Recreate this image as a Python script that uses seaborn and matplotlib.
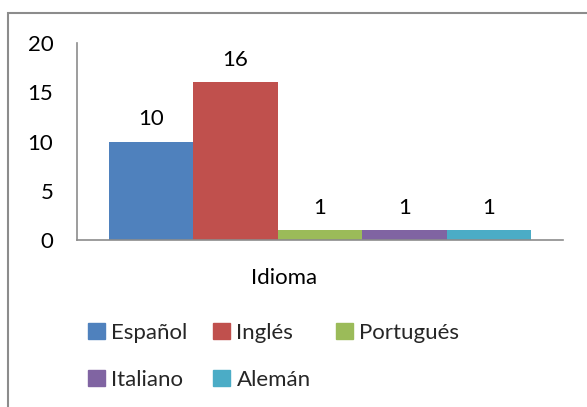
import matplotlib
matplotlib.use("Agg")
import matplotlib.pyplot as plt
import matplotlib.patches as mpatches
import matplotlib.transforms as mtransforms
import seaborn as sns
import pandas as pd

categories = ["Idioma"]
languages = ["Español", "Inglés", "Portugués", "Italiano", "Alemán"]
counts = [10, 16, 1, 1, 1]
colors = ["#4F81BD", "#C0504D", "#9BBB59", "#8064A2", "#4BACC6"]
yticks = [0, 5, 10, 15, 20]

df = pd.DataFrame({"cat": categories * len(languages), "lang": languages, "n": counts})

sns.set_style("white")
plt.rcParams["font.family"] = ["Lato", "DejaVu Sans"]
FS = 16

fig = plt.figure(figsize=(5.87, 4.07), dpi=100)
ax = fig.add_axes([77 / 587, 1 - 240 / 407, 486 / 587, 197 / 407])

sns.barplot(data=df, x="cat", y="n", hue="lang", hue_order=languages,
            palette=colors, width=0.87, saturation=1, ax=ax, legend=False,
            linewidth=0, edgecolor="none")

for c in ax.containers:
    ax.bar_label(c, padding=9, fontsize=FS, color="black")

ax.set_ylim(0, 20)
ax.set_xlim(-0.5, 0.5)
ax.set_yticks(yticks)
ax.set_xlabel("")
ax.set_ylabel("")
ax.tick_params(axis="y", length=0, pad=17, labelsize=FS, colors="black")
ax.tick_params(axis="x", length=0, pad=20, labelsize=FS, colors="black")
shift = mtransforms.ScaledTranslation(-36 / 100, 0, fig.dpi_scale_trans)
for lab in ax.get_xticklabels():
    lab.set_transform(lab.get_transform() + shift)
for s in ["top", "right"]:
    ax.spines[s].set_visible(False)
for s in ["left", "bottom"]:
    ax.spines[s].set_color("#8c8c8c")
    ax.spines[s].set_linewidth(1.2)

handles = [mpatches.Patch(color=col, label=l) for col, l in zip(colors, languages)]
order = [0, 3, 1, 4, 2]
fig.legend([handles[i] for i in order], [languages[i] for i in order],
           ncol=3, loc="upper left", bbox_to_anchor=(88 / 587, 1 - 323 / 407),
           frameon=False, fontsize=FS, handlelength=0.75, handleheight=0.75,
           handletextpad=0.3, columnspacing=1.15, labelspacing=1.2,
           borderaxespad=0, borderpad=0)

rect = mpatches.Rectangle((8 / 587, -0.1), 1.2, 1 - 13 / 407 + 0.1,
                          transform=fig.transFigure, fill=False,
                          edgecolor="#8c8c8c", linewidth=1.5, clip_on=False)
fig.patches.append(rect)

fig.savefig("out.png", dpi=100)
